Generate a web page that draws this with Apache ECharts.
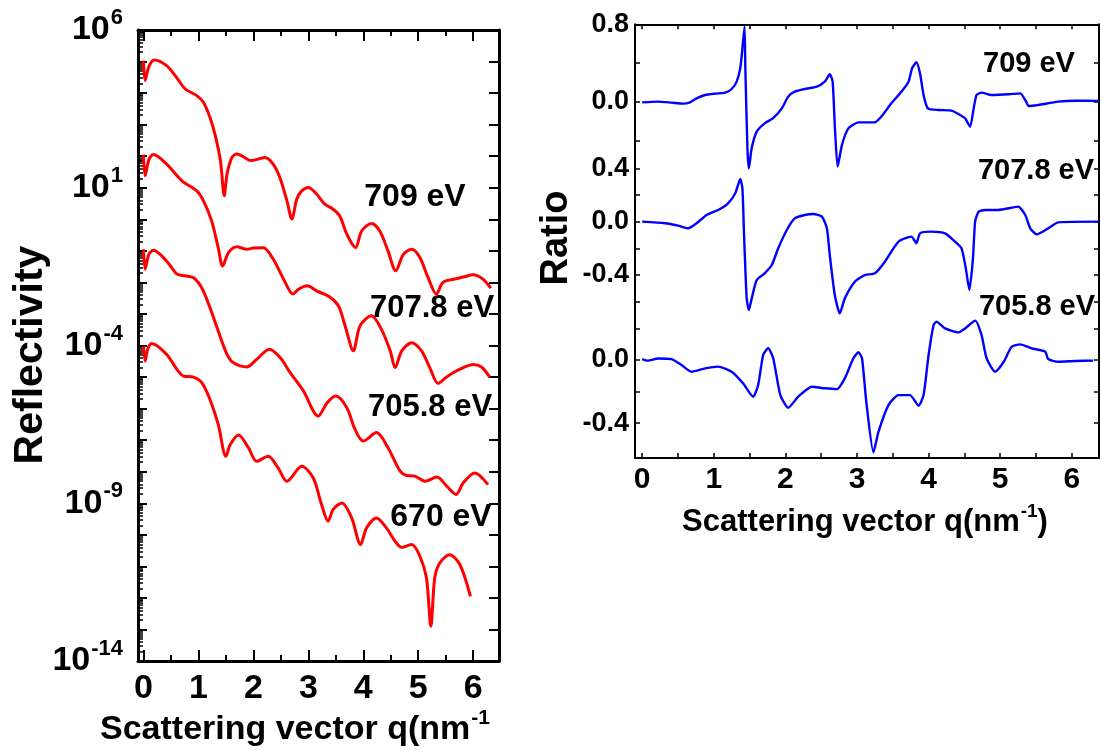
<!DOCTYPE html>
<html><head><meta charset="utf-8">
<script src="https://cdn.jsdelivr.net/npm/echarts@6/dist/echarts.min.js"></script>
<style>html,body{margin:0;padding:0;background:#fff}#c{width:1101px;height:751px}</style>
</head><body><div id="c"></div>
<script>
// ---------- DATA (left panel: q in nm^-1, log10 reflectivity) ----------
const refl709 = [[0,5.03],[0.03,4.4],[0.1,4.85],[0.2,5.05],[0.42,4.87],[0.6,4.5],[0.76,4.13],[0.97,3.92],[1.09,3.71],[1.21,3.23],[1.30,2.70],[1.40,1.86],[1.47,0.75],[1.52,1.43],[1.61,1.96],[1.70,2.07],[1.82,1.98],[1.95,1.86],[2.09,1.91],[2.21,1.96],[2.36,1.75],[2.48,1.33],[2.61,0.59],[2.70,0.01],[2.79,0.64],[2.88,0.90],[3.0,1.01],[3.15,0.80],[3.30,0.48],[3.45,0.32],[3.57,0.11],[3.70,-0.47],[3.86,-0.90],[3.97,-0.37],[4.15,-0.13],[4.30,-0.37],[4.45,-1.0],[4.59,-1.63],[4.73,-1.11],[4.88,-0.95],[5.03,-1.21],[5.18,-1.85],[5.33,-2.37],[5.45,-2.0],[5.64,-1.9],[5.82,-1.83],[6.0,-1.76],[6.18,-1.9],[6.32,-2.18]];
const refl7078 = [[0,2.05],[0.03,1.38],[0.1,1.9],[0.18,2.05],[0.42,1.75],[0.70,1.22],[0.97,0.90],[1.09,0.59],[1.24,-0.05],[1.36,-0.90],[1.44,-1.48],[1.55,-1.05],[1.70,-0.87],[1.88,-0.95],[2.0,-0.91],[2.18,-0.90],[2.36,-1.26],[2.55,-1.90],[2.72,-2.37],[2.82,-2.22],[2.98,-2.11],[3.15,-2.27],[3.39,-2.46],[3.55,-2.75],[3.67,-3.38],[3.82,-4.17],[3.94,-3.38],[4.15,-3.06],[4.33,-3.49],[4.49,-4.17],[4.58,-4.70],[4.70,-4.17],[4.88,-3.91],[5.06,-4.17],[5.21,-4.70],[5.36,-5.2],[5.5,-5.02],[5.65,-4.85],[5.82,-4.7],[6.0,-4.6],[6.15,-4.68],[6.30,-5.0]];
const refl7058 = [[0,-0.95],[0.03,-1.58],[0.1,-1.1],[0.18,-0.98],[0.42,-1.32],[0.61,-1.74],[0.76,-1.79],[0.91,-1.85],[1.06,-2.17],[1.21,-2.80],[1.36,-3.54],[1.52,-4.28],[1.64,-4.55],[1.88,-4.68],[2.06,-4.44],[2.29,-4.12],[2.49,-4.39],[2.67,-4.86],[2.91,-5.44],[3.18,-6.24],[3.34,-5.82],[3.50,-5.6],[3.70,-5.97],[3.85,-6.66],[4.0,-7.03],[4.24,-6.76],[4.45,-7.24],[4.67,-7.98],[4.79,-8.12],[4.94,-8.14],[5.12,-8.30],[5.34,-8.17],[5.52,-8.46],[5.69,-8.72],[5.82,-8.35],[6.03,-8.04],[6.27,-8.41]];
const refl670 = [[0,-4.02],[0.03,-4.49],[0.08,-4.1],[0.15,-3.94],[0.42,-4.28],[0.61,-4.76],[0.73,-4.97],[0.91,-5.0],[1.06,-5.18],[1.21,-5.71],[1.36,-6.50],[1.50,-7.51],[1.58,-7.14],[1.73,-6.84],[1.91,-7.24],[2.06,-7.67],[2.27,-7.51],[2.45,-7.88],[2.61,-8.30],[2.88,-7.83],[3.09,-8.2],[3.24,-9.04],[3.36,-9.57],[3.45,-9.2],[3.61,-8.99],[3.79,-9.47],[3.95,-10.31],[4.06,-9.78],[4.24,-9.47],[4.42,-9.78],[4.58,-10.21],[4.70,-10.4],[4.88,-10.31],[5.03,-10.68],[5.15,-11.37],[5.23,-12.90],[5.30,-11.37],[5.39,-10.90],[5.57,-10.63],[5.76,-10.95],[5.95,-11.95]];

// ---------- DATA (right panel: ratio) ----------
const ratio709 = [[0,-0.007],[0.22,0],[0.41,-0.01],[0.57,-0.02],[0.67,-0.007],[0.76,0.034],[0.88,0.069],[1.02,0.083],[1.16,0.093],[1.25,0.131],[1.32,0.207],[1.37,0.345],[1.40,0.55],[1.43,0.776],[1.44,0.38],[1.47,-0.48],[1.49,-0.69],[1.53,-0.48],[1.60,-0.31],[1.71,-0.224],[1.83,-0.17],[1.95,-0.069],[2.04,0.052],[2.13,0.103],[2.27,0.131],[2.44,0.155],[2.55,0.207],[2.62,0.283],[2.66,0.207],[2.69,-0.241],[2.73,-0.672],[2.79,-0.448],[2.88,-0.276],[3.02,-0.214],[3.25,-0.214],[3.34,-0.155],[3.48,-0.017],[3.62,0.103],[3.72,0.207],[3.77,0.345],[3.83,0.407],[3.88,0.293],[3.93,0.069],[3.99,-0.069],[4.14,-0.086],[4.32,-0.093],[4.44,-0.138],[4.51,-0.172],[4.58,-0.259],[4.63,-0.069],[4.67,0.069],[4.74,0.093],[4.88,0.069],[5.12,0.076],[5.28,0.086],[5.35,0.017],[5.40,-0.045],[5.53,-0.034],[5.81,0],[6.05,0.01],[6.37,0.007]];
const ratio7078 = [[0,0],[0.32,-0.012],[0.50,-0.03],[0.64,-0.05],[0.76,-0.012],[0.90,0.05],[1.06,0.0875],[1.20,0.1375],[1.30,0.2125],[1.37,0.32],[1.40,0.25],[1.42,-0.05],[1.43,-0.2],[1.46,-0.575],[1.49,-0.6625],[1.53,-0.575],[1.60,-0.4375],[1.71,-0.3875],[1.81,-0.325],[1.90,-0.2],[2.02,-0.0625],[2.13,0.025],[2.27,0.05],[2.39,0.0575],[2.51,0.0375],[2.58,-0.05],[2.62,-0.25],[2.69,-0.55],[2.76,-0.6875],[2.83,-0.575],[2.97,-0.45],[3.11,-0.4],[3.25,-0.3875],[3.39,-0.3],[3.58,-0.15],[3.76,-0.1125],[3.83,-0.1625],[3.88,-0.0875],[4.04,-0.075],[4.23,-0.0875],[4.37,-0.15],[4.46,-0.2],[4.52,-0.35],[4.57,-0.5125],[4.62,-0.275],[4.65,0],[4.70,0.075],[4.79,0.0875],[4.97,0.0875],[5.25,0.1125],[5.35,0.05],[5.42,-0.05],[5.51,-0.095],[5.67,-0.05],[5.81,-0.005],[6.37,0]];
const ratio7058 = [[0,0.006],[0.08,-0.004],[0.22,0.01],[0.41,0.006],[0.55,-0.032],[0.69,-0.074],[0.88,-0.053],[1.06,-0.042],[1.25,-0.074],[1.41,-0.148],[1.55,-0.232],[1.62,-0.158],[1.69,0.032],[1.76,0.074],[1.83,0.011],[1.93,-0.222],[2.04,-0.302],[2.18,-0.232],[2.37,-0.169],[2.55,-0.179],[2.72,-0.184],[2.83,-0.116],[2.95,0.011],[3.02,0.049],[3.07,0.011],[3.13,-0.264],[3.23,-0.584],[3.30,-0.454],[3.44,-0.285],[3.58,-0.222],[3.74,-0.222],[3.86,-0.289],[3.93,-0.222],[4.00,0.032],[4.07,0.222],[4.11,0.243],[4.23,0.2],[4.42,0.175],[4.51,0.2],[4.65,0.249],[4.74,0.158],[4.81,0.011],[4.93,-0.074],[5.05,-0.011],[5.16,0.084],[5.28,0.099],[5.44,0.074],[5.63,0.053],[5.67,0.006],[5.81,-0.011],[6.05,-0.006],[6.30,-0.004]];

// ---------- ticks / labels ----------
const qTicks = [0,1,2,3,4,5,6];
const qHalfTicks = [0.5,1.5,2.5,3.5,4.5,5.5];
const qAllTicks = [0,0.5,1,1.5,2,2.5,3,3.5,4,4.5,5,5.5,6];
const decadeLabels = [-14,-9,-4,1,6];
const decadeTicks = [-14,-13,-12,-11,-10,-9,-8,-7,-6,-5,-4,-3,-2,-1,0,1,2,3,4,5,6];
const leftLabels = ['709 eV','707.8 eV','705.8 eV','670 eV'];
const rightLabels = ['709 eV','707.8 eV','705.8 eV'];
const ratioTicksA = [-0.4,0,0.4,0.8], ratioLabelsA = [0,0.8];
const ratioTicksB = [-0.6,-0.4,-0.2,0,0.2,0.4], ratioLabelsB = [-0.4,0,0.4];
const ratioTicksC = [-0.4,-0.2,0,0.2], ratioLabelsC = [-0.4,0];

const FONT = "'Liberation Sans', Arial, Helvetica, sans-serif";
const logMinor = [];
decadeTicks.slice(0,-1).forEach(d => { for (let k=2;k<=9;k++) logMinor.push(d + Math.log10(k)); });

const black = '#000';
function hiddenX(grid, pos, extra){ return Object.assign({type:'value', gridIndex:grid, position:pos, splitLine:{show:false}, axisLine:{show:false, onZero:false}, axisTick:{show:false}, axisLabel:{show:false}}, extra||{}); }

const LX = {min:-0.1, max:6.47};
const RX = {min:-0.1, max:6.38};

const xAxis = [
  // 0 left bottom main
  Object.assign({type:'value', gridIndex:0, position:'bottom', splitLine:{show:false},
    axisLine:{show:true, onZero:false, lineStyle:{color:black,width:3}},
    axisTick:{show:true, inside:true, length:11, lineStyle:{color:black,width:2}, customValues:qTicks},
    axisLabel:{show:true, customValues:qTicks, margin:11, color:black, fontSize:34, fontWeight:'bold', fontFamily:FONT}}, LX),
  // 1 left bottom minor
  Object.assign(hiddenX(0,'bottom',{axisTick:{show:true, inside:true, length:6, lineStyle:{color:black,width:2}, customValues:qHalfTicks}}), LX),
  // 2 left top main
  Object.assign(hiddenX(0,'top',{axisLine:{show:true,onZero:false,lineStyle:{color:black,width:3}}, axisTick:{show:true, inside:true, length:11, lineStyle:{color:black,width:2}, customValues:qTicks}}), LX),
  // 3 left top minor
  Object.assign(hiddenX(0,'top',{axisTick:{show:true, inside:true, length:6, lineStyle:{color:black,width:2}, customValues:qHalfTicks}}), LX),
  // 4 right top
  Object.assign(hiddenX(1,'top',{axisLine:{show:true,onZero:false,lineStyle:{color:black,width:2}}, axisTick:{show:true, inside:true, length:5, lineStyle:{color:black,width:1.5}, customValues:qAllTicks}}), RX),
  // 5 right bottom with labels
  Object.assign({type:'value', gridIndex:3, position:'bottom', splitLine:{show:false},
    axisLine:{show:true, onZero:false, lineStyle:{color:black,width:2}},
    axisTick:{show:true, inside:true, length:5, lineStyle:{color:black,width:1.5}, customValues:qAllTicks},
    axisLabel:{show:true, customValues:qTicks, margin:7, color:black, fontSize:30, fontWeight:'bold', fontFamily:FONT}}, RX),
  // 6 right middle hidden
  Object.assign(hiddenX(2,'bottom'), RX)
];

function yMain(grid, pos, min, max, ticks, labels, lw, tl, fs){
  return {type:'value', gridIndex:grid, position:pos, min:min, max:max, splitLine:{show:false},
    axisLine:{show:true, onZero:false, lineStyle:{color:black,width:lw}},
    axisTick:{show:true, inside:true, length:tl, lineStyle:{color:black,width:1.5}, customValues:ticks},
    axisLabel: labels ? {show:true, customValues:labels, margin:6, color:black, fontSize:fs, fontWeight:'bold', fontFamily:FONT,
      formatter: v => (Math.abs(v)<1e-9?0:v).toFixed(1)} : {show:false}};
}

const yAxis = [
  // 0 left main
  {type:'value', gridIndex:0, position:'left', min:-14, max:6, splitLine:{show:false},
    axisLine:{show:true, onZero:false, lineStyle:{color:black,width:3}},
    axisTick:{show:true, inside:true, length:9, lineStyle:{color:black,width:2}, customValues:decadeTicks},
    axisLabel:{show:true, customValues:decadeLabels, margin:15, color:black, fontFamily:FONT,
      formatter: v => '{b|10}{s|' + Math.round(v) + '}',
      rich:{ b:{fontSize:34, fontWeight:'bold', fontFamily:FONT, color:black, verticalAlign:'bottom', lineHeight:34},
             s:{fontSize:22, fontWeight:'bold', fontFamily:FONT, color:black, verticalAlign:'bottom', lineHeight:22, padding:[0,0,18,1]} }}},
  // 1 left minor log ticks
  {type:'value', gridIndex:0, position:'left', min:-14, max:6, splitLine:{show:false}, axisLine:{show:false, onZero:false},
    axisTick:{show:true, inside:true, length:5, lineStyle:{color:black,width:1.5}, customValues:logMinor}, axisLabel:{show:false}},
  // 2 left right side
  {type:'value', gridIndex:0, position:'right', min:-14, max:6, splitLine:{show:false},
    axisLine:{show:true, onZero:false, lineStyle:{color:black,width:3}},
    axisTick:{show:true, inside:true, length:10, lineStyle:{color:black,width:2}, customValues:decadeTicks}, axisLabel:{show:false}},
  // 3..8 right panel
  yMain(1,'left',-0.689,0.8,ratioTicksA,ratioLabelsA,2,5,27),
  yMain(1,'right',-0.689,0.8,ratioTicksA,null,2,5),
  yMain(2,'left',-0.6,0.4,ratioTicksB,ratioLabelsB,2,5,27),
  yMain(2,'right',-0.6,0.4,ratioTicksB,null,2,5),
  yMain(3,'left',-0.62,0.369,ratioTicksC,ratioLabelsC,2,5,27),
  yMain(3,'right',-0.62,0.369,ratioTicksC,null,2,5)
];

function redLine(d){ return {type:'line', xAxisIndex:0, yAxisIndex:0, data:d, showSymbol:false, smooth:0.3, clip:false,
  lineStyle:{color:'#ff0000', width:3}, silent:true, animation:false}; }
function blueLine(d, xi, yi){ return {type:'line', xAxisIndex:xi, yAxisIndex:yi, data:d, showSymbol:false, smooth:0.2, clip:false,
  lineStyle:{color:'#0000ff', width:2.4}, silent:true, animation:false}; }

function txt(text, x, y, size, opts){
  return Object.assign({type:'text', x:x, y:y, silent:true, style:{text:text, fill:black, fontSize:size, fontWeight:'bold', fontFamily:FONT,
    font:'bold '+size+'px '+FONT, align:'center', verticalAlign:'middle', textAlign:'center', textVerticalAlign:'middle'}}, opts||{});
}

const graphics = [
  txt('Reflectivity', 31, 355, 41, {rotation:Math.PI/2}),
  txt('Ratio', 557, 238, 38, {rotation:Math.PI/2}),
  txt(leftLabels[0], 415, 197, 32),
  txt(leftLabels[1], 432, 308, 31),
  txt(leftLabels[2], 430, 407, 31),
  txt(leftLabels[3], 441, 517, 32),
  txt(rightLabels[0], 1029, 64, 29),
  txt(rightLabels[1], 1036, 171, 29),
  txt(rightLabels[2], 1037, 307, 29),
  {type:'text', x:100, y:730, silent:true, style:{text:'{a|Scattering vector q(nm}{s|-1}', align:'left', verticalAlign:'middle', textAlign:'left', textVerticalAlign:'middle',
    rich:{a:{fontSize:34, fontWeight:'bold', fontFamily:FONT, fill:black, color:black, verticalAlign:'bottom', lineHeight:34},
          s:{fontSize:21, fontWeight:'bold', fontFamily:FONT, fill:black, color:black, verticalAlign:'bottom', lineHeight:21, padding:[0,0,18,1]}}}},
  {type:'text', x:865, y:522, silent:true, style:{text:'{a|Scattering vector q(nm}{s|-1}{a|)}', align:'center', verticalAlign:'middle', textAlign:'center', textVerticalAlign:'middle',
    rich:{a:{fontSize:31, fontWeight:'bold', fontFamily:FONT, fill:black, color:black, verticalAlign:'bottom', lineHeight:31},
          s:{fontSize:19, fontWeight:'bold', fontFamily:FONT, fill:black, color:black, verticalAlign:'bottom', lineHeight:19, padding:[0,0,16,1]}}}}
];

const chart = echarts.init(document.getElementById('c'), null, {renderer:'canvas'});
chart.setOption({
  animation:false,
  backgroundColor:'#fff',
  grid:[
    {left:138, top:30, width:361, height:631},
    {left:635, top:24.3, width:464, height:144},
    {left:635, top:168.3, width:464, height:133.4},
    {left:635, top:301.7, width:464, height:156.3}
  ],
  xAxis:xAxis,
  yAxis:yAxis,
  series:[
    redLine(refl709), redLine(refl7078), redLine(refl7058), redLine(refl670),
    blueLine(ratio709,4,3), blueLine(ratio7078,6,5), blueLine(ratio7058,5,7)
  ],
  graphic:graphics
});
</script></body></html>
